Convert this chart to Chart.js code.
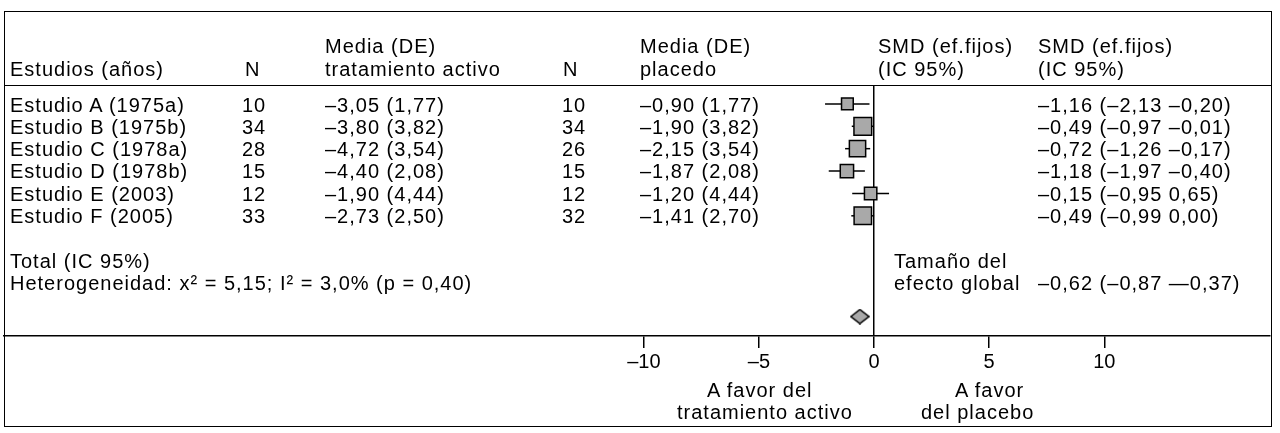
<!DOCTYPE html>
<html>
<head>
<meta charset="utf-8">
<script src="https://cdn.jsdelivr.net/npm/chart.js@4"></script>
<style>
  body { margin: 0; background: #fff; }
  #hoja { position: relative; width: 1280px; height: 433px; overflow: hidden; }
  #grafico { position: absolute; left: 0; top: 0; }
  .txt { position: absolute; font-family: 'Liberation Sans', Arial, sans-serif; font-size: 20px;
         line-height: 20px; letter-spacing: 1px; color: #000; white-space: nowrap; }
  .marco { position: absolute; left: 4px; top: 11px; width: 1268px; height: 416px;
           border: 1.5px solid #000; box-sizing: border-box; }
  .linea { position: absolute; left: 4px; width: 1268px; border-top: 1.5px solid #000; }
</style>
</head>
<body>
<div id="hoja">
  <div class="marco"></div>
  <div class="linea" style="top:85px"></div>
  <canvas id="grafico" width="1280" height="433"></canvas>
</div>
<script>
// Datos de los estudios
var estudios = ["Estudio A (1975a)", "Estudio B (1975b)", "Estudio C (1978a)", "Estudio D (1978b)", "Estudio E (2003)", "Estudio F (2005)"];
var nActivo = [10, 34, 28, 15, 12, 33];
var mediaActivo = [-3.05, -3.80, -4.72, -4.40, -1.90, -2.73];
var deActivo = [1.77, 3.82, 3.54, 2.08, 4.44, 2.50];
var nPlacebo = [10, 34, 26, 15, 12, 32];
var mediaPlacebo = [-0.90, -1.90, -2.15, -1.87, -1.20, -1.41];
var dePlacebo = [1.77, 3.82, 3.54, 2.08, 4.44, 2.70];
var smd = [-1.16, -0.49, -0.72, -1.18, -0.15, -0.49];
var icInf = [-2.13, -0.97, -1.26, -1.97, -0.95, -0.99];
var icSup = [-0.20, -0.01, -0.17, -0.40, 0.65, 0.00];
var smdTotal = -0.62;
var icTotal = [-0.87, -0.37];
var ejeTicks = [-10, -5, 0, 5, 10];

var hoja = document.getElementById("hoja");

// Formato con coma decimal y raya como signo menos
function fmt(v, dec) {
    if (dec === undefined) dec = 2;
    return (v < 0 ? "–" : "") + Math.abs(v).toFixed(dec).replace(".", ",");
}

function ponerTexto(texto, x, y) {
    var d = document.createElement("div");
    d.className = "txt";
    d.style.left = x + "px";
    d.style.top = (y - 10) + "px";
    d.innerHTML = texto;
    hoja.appendChild(d);
}

function filaY(i) {
    return 104.5 + 22.3 * i;
}

// Cabecera
ponerTexto("Estudios (años)", 10, 69);
ponerTexto("N", 245, 69);
ponerTexto("Media (DE)", 325, 46);
ponerTexto("tratamiento activo", 325, 69);
ponerTexto("N", 563, 69);
ponerTexto("Media (DE)", 640, 46);
ponerTexto("placedo", 640, 69);
ponerTexto("SMD (ef.fijos)", 878, 46);
ponerTexto("(IC 95%)", 878, 69);
ponerTexto("SMD (ef.fijos)", 1038, 46);
ponerTexto("(IC 95%)", 1038, 69);

// Filas de estudios
for (var i = 0; i < estudios.length; i++) {
    var y = filaY(i);
    ponerTexto(estudios[i], 10, y);
    ponerTexto(nActivo[i], 242, y);
    ponerTexto(fmt(mediaActivo[i]) + " (" + fmt(deActivo[i]) + ")", 325, y);
    ponerTexto(nPlacebo[i], 562, y);
    ponerTexto(fmt(mediaPlacebo[i]) + " (" + fmt(dePlacebo[i]) + ")", 640, y);
    ponerTexto(fmt(smd[i]) + " (" + fmt(icInf[i]) + " " + fmt(icSup[i]) + ")", 1038, y);
}

// Total
ponerTexto("Total (IC 95%)", 10, 261);
ponerTexto("Heterogeneidad: x² = 5,15; I² = 3,0% (p = 0,40)", 10, 283);
ponerTexto("Tamaño del", 894, 261);
ponerTexto("efecto global", 894, 283);
ponerTexto(fmt(smdTotal) + " (" + fmt(icTotal[0]) + " —" + fmt(Math.abs(icTotal[1])) + ")", 1038, 283);

// Etiquetas bajo el eje
ponerTexto("A favor del", 707, 390);
ponerTexto("tratamiento activo", 677, 412);
ponerTexto("A favor", 955, 390);
ponerTexto("del placebo", 921, 412);

// Rombo del efecto global
function crearRombo() {
    var c = document.createElement("canvas");
    c.width = 20; c.height = 16;
    var g = c.getContext("2d");
    g.beginPath();
    g.moveTo(1, 8); g.lineTo(10, 1); g.lineTo(19, 8); g.lineTo(10, 15); g.closePath();
    g.fillStyle = "#a9a9a9";
    g.fill();
    g.lineWidth = 1.5;
    g.strokeStyle = "#000";
    g.stroke();
    return c;
}

// Conjuntos: intervalos, cuadros y rombo
var conjuntos = [];
for (var i = 0; i < estudios.length; i++) {
    conjuntos.push({
        data: [{ x: icInf[i], y: i }, { x: icSup[i], y: i }],
        showLine: true,
        borderColor: "#000",
        borderWidth: 1.5,
        pointRadius: 0,
        order: 2
    });
}
var puntos = [];
for (var i = 0; i < estudios.length; i++) {
    puntos.push({ x: smd[i], y: i });
}
conjuntos.push({
    data: puntos,
    pointStyle: "rect",
    pointRadius: function (ctx) {
        var n = nActivo[ctx.dataIndex] + nPlacebo[ctx.dataIndex];
        return (4.6 + 1.59 * Math.sqrt(n)) / Math.SQRT2;
    },
    backgroundColor: "#a9a9a9",
    borderColor: "#000",
    borderWidth: 1.5,
    order: 0
});
conjuntos.push({
    data: [{ x: smdTotal, y: estudios.length + 3.5 }],
    pointStyle: crearRombo(),
    order: 0
});

var configuracion = {
    type: "scatter",
    data: { datasets: conjuntos },
    options: {
        responsive: false,
        animation: false,
        layout: { autoPadding: false, padding: { left: 4, right: 10, top: 86, bottom: 47 } },
        plugins: { legend: { display: false }, tooltip: { enabled: false } },
        scales: {
            x: {
                type: "linear",
                min: -37.8,
                max: 17.2,
                afterBuildTicks: function (eje) {
                    eje.ticks = ejeTicks.map(function (v) { return { value: v }; });
                },
                afterFit: function (eje) { eje.height = 50; },
                border: { display: true, color: "#000", width: 1.5 },
                grid: {
                    drawOnChartArea: true,
                    color: function (ctx) { return ctx.tick && ctx.tick.value === 0 ? "#000" : "rgba(0,0,0,0)"; },
                    lineWidth: 1.5,
                    tickColor: "#000",
                    tickLength: 12,
                    tickWidth: 1.5
                },
                ticks: {
                    color: "#000",
                    padding: 2,
                    font: { family: "'Liberation Sans', Arial, sans-serif", size: 20 },
                    callback: function (v) { return fmt(v, 0); }
                }
            },
            y: {
                type: "linear",
                display: false,
                reverse: true,
                min: -0.8,
                max: 10.37
            }
        }
    }
};

var contexto = document.getElementById("grafico").getContext("2d");
var miGrafico = new Chart(contexto, configuracion);
</script>
</body>
</html>
